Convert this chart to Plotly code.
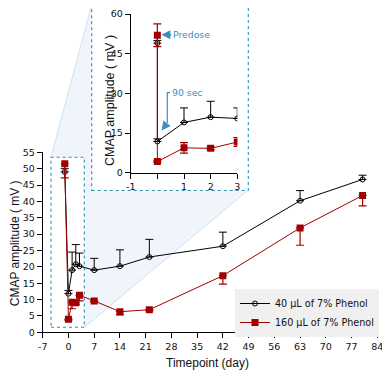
import plotly.graph_objects as go

# ---- data ----
days = [-1, 0, 1, 2, 3, 7, 14, 22, 42, 63, 80]
low_dose = [49, 11.8, 19, 20.8, 20.2, 19, 20.2, 23, 26.3, 40.2, 46.7]
low_err_up = [1, 1, 5.5, 6, 4, 3.6, 5, 5.4, 4.3, 3.1, 1.3]
high_dose = [51.5, 4, 9.2, 9, 11.3, 9.6, 6.3, 6.9, 17.3, 31.9, 41.8]
high_err_low = [4.3, 0.3, 2, 0.5, 1.7, 0.3, 1, 0.3, 2.6, 5.3, 3.2]

inset_days = [0, 0, 1, 2, 3]
inset_low = [49, 11.8, 19, 21, 20.5]
inset_low_err = [1, 1, 5.5, 6, 4]
inset_high = [52, 4.2, 9.4, 9.2, 11.6]
inset_high_err = [4.3, 0.3, 2, 0.5, 1.7]

x_ticks = [-7, 0, 7, 14, 21, 28, 35, 42, 49, 56, 63, 70, 77, 84]
x_tick_text = ["-7", "0", "7", "14", "21", "28", "35", "42", "49", "56", "63", "70", "77", "84"]
y_ticks = [0, 5, 10, 15, 20, 25, 30, 35, 40, 45, 50, 55]
inset_x_ticks = [-1, 0, 1, 2, 3]
inset_x_text = ["-1", "", "1", "2", "3"]
inset_y_ticks = [0, 15, 30, 45, 60]

BLACK = "#000000"
RED = "#a00000"
BLUE = "#3a8fbf"
DASH = "#2e8fb0"
TITLE_FONT = "Arial, Liberation Sans, sans-serif"
TICK_FONT = "DejaVu Sans, Verdana, sans-serif"
OFF = 8  # page body margin of the browser
W, H = 390 - OFF, 375 - OFF


def px(x):
    return (x - OFF) / W


def py(y):
    return 1 - (y - OFF) / H


fig = go.Figure()

fig.add_trace(go.Scatter(
    x=days, y=low_dose, mode="lines+markers", name="40 µL of 7% Phenol",
    line=dict(color=BLACK, width=1),
    marker=dict(symbol="circle-open", size=5, color=BLACK, line=dict(width=1)),
    error_y=dict(type="data", symmetric=False, array=low_err_up,
                 arrayminus=[0] * len(days), color=BLACK, thickness=1, width=4),
    xaxis="x", yaxis="y"))
fig.add_trace(go.Scatter(
    x=days, y=high_dose, mode="lines+markers", name="160 µL of 7% Phenol",
    line=dict(color=RED, width=1),
    marker=dict(symbol="square", size=7, color=RED),
    error_y=dict(type="data", symmetric=False, array=[0] * len(days),
                 arrayminus=high_err_low, color=RED, thickness=1.2, width=4),
    xaxis="x", yaxis="y"))

fig.add_trace(go.Scatter(
    x=inset_days, y=inset_low, mode="lines+markers", showlegend=False,
    line=dict(color=BLACK, width=1),
    marker=dict(symbol="circle-open", size=5, color=BLACK, line=dict(width=1)),
    error_y=dict(type="data", symmetric=False, array=inset_low_err,
                 arrayminus=[0] * len(inset_days), color=BLACK, thickness=1, width=4),
    xaxis="x2", yaxis="y2"))
fig.add_trace(go.Scatter(
    x=inset_days, y=inset_high, mode="lines+markers", showlegend=False,
    line=dict(color=RED, width=1),
    marker=dict(symbol="square", size=7, color=RED),
    error_y=dict(type="data", array=inset_high_err, color=RED, thickness=1.2, width=4),
    xaxis="x2", yaxis="y2"))

axis_common = dict(showgrid=False, zeroline=False, showline=True, linecolor="#000",
                   linewidth=1, ticks="outside", ticklen=5, tickcolor="#000",
                   automargin=False,
                   tickfont=dict(family=TICK_FONT, size=9.5, color="#111"))

fig.update_layout(
    width=W, height=H, margin=dict(l=0, r=0, t=0, b=0, autoexpand=False),
    paper_bgcolor="white", plot_bgcolor="rgba(0,0,0,0)",
    font=dict(family=TICK_FONT, color="#111"),
    xaxis=dict(domain=[px(42.7), px(377.3)], range=[-7, 84], tickvals=x_ticks,
               ticktext=x_tick_text, anchor="y", **axis_common),
    yaxis=dict(domain=[py(332.3), py(152.3)], range=[0, 55], tickvals=y_ticks,
               anchor="x", **axis_common),
    xaxis2=dict(domain=[px(130.7), px(237.3)], range=[-1, 3], tickvals=inset_x_ticks,
                ticktext=inset_x_text, anchor="y2", **axis_common),
    yaxis2=dict(domain=[py(172.7), py(14)], range=[0, 60], tickvals=inset_y_ticks,
                anchor="x2", **axis_common),
    legend=dict(x=px(235), y=py(289), xanchor="left", yanchor="top",
                bgcolor="#f0f0f0", borderwidth=0,
                font=dict(family=TICK_FONT, size=9.6, color="#111"),
                tracegroupgap=2, itemwidth=30),
    showlegend=True,
)

# zoom connector shading
poly = (f"M {px(51)},{py(157.3)} L {px(91.7)},{py(5)} "
        f"L {px(248.3)},{py(190)} L {px(84.3)},{py(327.3)} Z")
shapes = [
    dict(type="path", path=poly, xref="paper", yref="paper", layer="below",
         fillcolor="#eff5fa", line=dict(color="#cde2f0", width=1)),
    dict(type="rect", xref="paper", yref="paper", layer="below",
         x0=px(51), x1=px(84.3), y0=py(327.3), y1=py(157.3),
         fillcolor="white", line=dict(color=DASH, width=1.1, dash="dot")),
    dict(type="rect", xref="paper", yref="paper", layer="below",
         x0=px(91.7), x1=px(248.3), y0=py(190.5), y1=py(4.5),
         fillcolor="white", line=dict(color=DASH, width=1.1, dash="dot")),
    # 90 sec leader line
    dict(type="path", xref="paper", yref="paper",
         path=f"M {px(170)},{py(92.7)} L {px(167.3)},{py(92.7)} L {px(167.3)},{py(123)}",
         line=dict(color=BLUE, width=1.2)),
]
fig.update_layout(shapes=shapes)

# axis titles
fig.add_annotation(x=px(14.5), y=py(243.7), xref="paper", yref="paper",
                   xanchor="center", yanchor="middle",
                   text="CMAP amplitude ( mV )", textangle=-90, showarrow=False,
                   font=dict(family=TITLE_FONT, size=12, color="#111"))
fig.add_annotation(x=px(110), y=py(101), xref="paper", yref="paper",
                   xanchor="center", yanchor="middle",
                   text="CMAP amplitude ( mV )", textangle=-90, showarrow=False,
                   font=dict(family=TITLE_FONT, size=12.5, color="#111"))
fig.add_annotation(x=px(207), y=py(363), xref="paper", yref="paper",
                   xanchor="center", yanchor="middle",
                   text="Timepoint (day)", showarrow=False,
                   font=dict(family=TITLE_FONT, size=12, color="#111"))

fig.add_annotation(x=0.15, y=52.2, xref="x2", yref="y2", text="Predose",
                   showarrow=True, ax=10, ay=0, xanchor="left", arrowhead=2,
                   arrowsize=1.2, arrowwidth=1.5, arrowcolor=BLUE,
                   font=dict(family=TICK_FONT, size=9.3, color=BLUE))
fig.add_annotation(x=px(170), y=py(92.7), xref="paper", yref="paper", text="90 sec",
                   showarrow=False, xanchor="left", yanchor="middle",
                   font=dict(family=TICK_FONT, size=9.3, color=BLUE))
fig.add_annotation(x=0.16, y=16, xref="x2", yref="y2", text="",
                   showarrow=True, ax=6, ay=-8, arrowhead=2, arrowsize=1.2,
                   arrowwidth=1.5, arrowcolor=BLUE)

fig.write_html("out.html")
